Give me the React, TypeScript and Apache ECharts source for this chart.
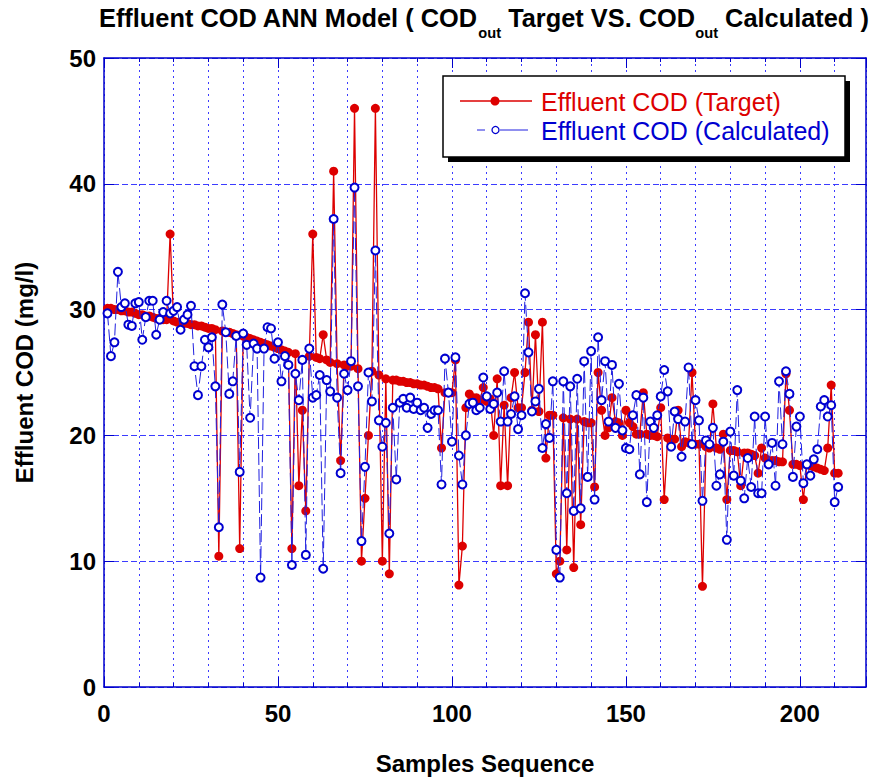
import React, { useEffect, useRef } from "react";
import * as echarts from "echarts";

// Effluent COD target values (samples 1..211)
const target: number[] = [
  30.1, 30.1, 30.0, 30.0, 29.9, 29.9, 29.8, 29.8, 29.7, 29.6,
  29.6, 29.5, 29.5, 29.4, 29.3, 29.3, 29.2, 29.2, 36.0, 29.1,
  29.0, 29.0, 28.9, 28.9, 28.8, 28.8, 28.7, 28.7, 28.6, 28.5,
  28.5, 28.4, 10.4, 28.3, 28.2, 28.2, 28.1, 28.0, 11.0, 27.9,
  27.8, 27.7, 27.6, 27.5, 27.4, 27.3, 27.2, 27.1, 27.0, 26.9,
  26.8, 26.7, 26.6, 11.0, 26.5, 16.0, 22.0, 14.0, 26.3, 36.0,
  26.2, 26.1, 28.0, 26.0, 25.8, 41.0, 25.7, 18.0, 25.6, 25.5,
  25.5, 46.0, 25.3, 10.0, 15.0, 20.0, 25.1, 46.0, 24.8, 10.0,
  24.5, 9.0, 24.4, 24.4, 24.3, 24.3, 24.2, 24.2, 24.1, 24.1,
  24.0, 24.0, 23.9, 23.8, 23.8, 23.7, 19.0, 23.4, 23.4, 23.4,
  26.0, 8.1, 11.2, 22.2, 23.3, 23.0, 23.0, 22.8, 23.8, 22.7,
  22.9, 20.0, 24.5, 16.0, 22.4, 16.0, 23.0, 25.0, 22.2, 22.2,
  25.0, 29.0, 22.0, 28.0, 21.9, 29.0, 18.2, 21.6, 21.6, 9.0,
  10.0, 21.4, 10.9, 21.3, 9.5, 21.3, 12.9, 21.1, 21.0, 21.0,
  15.9, 25.0, 22.0, 20.0, 20.6, 23.0, 21.1, 21.0, 20.0, 22.0,
  21.0, 20.7, 20.1, 20.1, 23.4, 20.1, 20.0, 20.0, 19.9, 22.2,
  14.9, 19.8, 19.7, 19.7, 22.0, 19.1, 19.5, 19.4, 25.0, 19.3,
  19.3, 8.0, 19.1, 19.0, 22.5, 19.0, 18.9, 20.1, 14.9, 18.8,
  18.8, 18.7, 16.0, 18.6, 18.6, 18.5, 18.4, 17.0, 19.0, 18.2,
  18.0, 18.0, 18.0, 17.9, 17.9, 24.9, 22.0, 17.7, 17.7, 17.6,
  14.9, 17.7, 17.6, 17.5, 17.4, 17.3, 17.2, 19.0, 24.0, 17.0, 17.0,
];

// Effluent COD calculated by the ANN model (samples 1..211)
const calculated: number[] = [
  29.7, 26.3, 27.4, 33.0, 30.2, 30.5, 28.8, 28.7, 30.5, 30.6,
  27.6, 29.4, 30.7, 30.7, 28.0, 29.2, 29.8, 30.7, 29.7, 29.9,
  30.2, 28.4, 29.2, 29.6, 30.3, 25.5, 23.2, 25.5, 27.6, 27.0,
  27.8, 23.9, 12.7, 30.4, 28.2, 23.3, 24.3, 27.9, 17.1, 28.1,
  27.2, 21.4, 27.3, 26.9, 8.7, 26.9, 28.6, 28.5, 26.1, 27.4,
  24.3, 26.3, 25.6, 9.7, 24.9, 22.8, 26.0, 10.5, 26.9, 23.0,
  23.2, 24.8, 9.4, 24.4, 23.5, 37.2, 23.0, 17.0, 24.9, 23.6,
  25.9, 39.7, 23.9, 11.6, 17.5, 25.0, 22.7, 34.7, 21.2, 19.1,
  21.0, 12.2, 22.2, 16.5, 22.6, 22.9, 22.2, 23.0, 22.1, 22.6,
  22.0, 22.2, 20.6, 21.7, 22.0, 22.0, 16.1, 26.1, 23.4, 19.5,
  26.2, 18.4, 16.1, 20.0, 22.5, 22.6, 22.0, 22.2, 24.6, 23.1,
  22.1, 22.5, 23.4, 21.1, 25.1, 21.1, 21.7, 23.1, 20.5, 21.6,
  31.3, 26.6, 21.9, 22.7, 23.7, 19.0, 20.9, 19.8, 24.3, 10.9,
  8.7, 24.3, 15.4, 23.9, 14.0, 24.5, 14.2, 25.9, 16.7, 26.7,
  14.9, 27.8, 22.8, 25.9, 21.1, 25.6, 20.6, 24.1, 20.4, 19.0,
  18.9, 21.6, 23.2, 16.9, 23.0, 14.7, 21.1, 20.6, 21.6, 23.1,
  25.2, 23.5, 19.1, 21.9, 21.3, 18.3, 21.1, 25.4, 19.3, 22.8,
  21.2, 14.8, 19.6, 19.3, 20.6, 16.0, 16.9, 19.5, 11.7, 20.3,
  16.8, 23.6, 16.4, 15.0, 18.2, 15.9, 21.5, 15.4, 15.4, 21.5,
  17.7, 19.4, 16.0, 24.3, 19.3, 25.1, 23.3, 16.7, 20.7, 21.5,
  16.2, 17.7, 16.8, 18.1, 18.9, 22.3, 22.8, 21.5, 22.4, 14.7, 15.9,
];

const seriesNames = ["Effluent COD (Target)", "Effluent COD (Calculated)"];
const titleParts = [
  { t: "Effluent COD ANN Model ( COD", sub: false },
  { t: "out", sub: true },
  { t: " Target VS. COD", sub: false },
  { t: "out", sub: true },
  { t: " Calculated )", sub: false },
];
const xAxisName = "Samples Sequence";
const yAxisName = "Effluent COD (mg/l)";

const RED = "#dd0000";
const BLUE = "#0000d0";
const GRIDC = "#3c3cff";
const FRAME = "#0000cc";
const SANS = '"Liberation Sans", Arial, Helvetica, sans-serif';
const NARROW = '"Liberation Sans Narrow", "Liberation Sans", Arial, sans-serif';

function measure(text: string, font: string): number {
  const c = document.createElement("canvas").getContext("2d");
  if (!c) return text.length * 10;
  c.font = font;
  return c.measureText(text).width;
}

export default function App() {
  const ref = useRef<HTMLDivElement>(null);
  useEffect(() => {
    if (!ref.current) return;
    const chart = echarts.init(ref.current, undefined, { renderer: "svg" });

    const mainSize = 26;
    const subSize = 15;
    let cx = 0;
    const titleChildren: any[] = [];
    titleParts.forEach((p) => {
      const size = p.sub ? subSize : mainSize;
      const w = measure(p.t, `bold ${size}px ${NARROW}`);
      titleChildren.push({
        type: "text",
        x: cx,
        y: p.sub ? 25 : 5,
        style: {
          text: p.t,
          fontSize: size,
          fontWeight: "bold",
          fontFamily: NARROW,
          fill: "#000",
          verticalAlign: "top",
          align: "left",
        },
      });
      cx += w;
    });
    const titleScale = 770 / cx;

    const targetData = target.map((v, k) => [k + 1, v]);
    const calcData = calculated.map((v, k) => [k + 1, v]);

    const lx = 443;
    const ly = 76;
    const lw = 402;
    const lh = 81;

    chart.setOption({
      animation: false,
      backgroundColor: "#ffffff",
      grid: { left: 104, right: 8, top: 58, bottom: 90, containLabel: false },
      xAxis: [
        {
          type: "value",
          min: 0,
          max: 219,
          interval: 50,
          name: xAxisName,
          nameLocation: "middle",
          nameGap: 64,
          nameTextStyle: { fontSize: 24, fontWeight: "bold", color: "#000", fontFamily: SANS },
          axisLine: { show: true, onZero: false, lineStyle: { color: FRAME, width: 1.5 } },
          axisTick: { show: true, inside: true, length: 10, lineStyle: { color: FRAME } },
          minorTick: { show: true, splitNumber: 5, length: 4, lineStyle: { color: FRAME } },
          axisLabel: {
            fontSize: 24,
            fontWeight: "bold",
            color: "#000",
            fontFamily: SANS,
            margin: 14,
            showMaxLabel: false,
          },
          splitLine: { show: true, lineStyle: { color: GRIDC, width: 1, type: [2, 4] } },
          minorSplitLine: { show: true, lineStyle: { color: GRIDC, width: 1, type: [2, 4] } },
        },
        {
          type: "value",
          position: "top",
          min: 0,
          max: 219,
          interval: 50,
          axisLine: { show: true, onZero: false, lineStyle: { color: FRAME, width: 1.5 } },
          axisTick: { show: true, inside: true, length: 10, lineStyle: { color: FRAME } },
          minorTick: { show: true, splitNumber: 5, length: 4, lineStyle: { color: FRAME } },
          axisLabel: { show: false },
          splitLine: { show: false },
        },
      ],
      yAxis: [
        {
          type: "value",
          min: 0,
          max: 50,
          interval: 10,
          name: yAxisName,
          nameLocation: "middle",
          nameGap: 68,
          nameTextStyle: { fontSize: 24, fontWeight: "bold", color: "#000", fontFamily: SANS },
          axisLine: { show: true, onZero: false, lineStyle: { color: FRAME, width: 1.5 } },
          axisTick: { show: true, inside: true, length: 10, lineStyle: { color: FRAME } },
          axisLabel: { fontSize: 24, fontWeight: "bold", color: "#000", fontFamily: SANS, margin: 8 },
          splitLine: { show: false },
        },
        {
          type: "value",
          position: "right",
          min: 0,
          max: 50,
          interval: 10,
          axisLine: { show: true, onZero: false, lineStyle: { color: FRAME, width: 1.5 } },
          axisTick: { show: true, inside: true, length: 10, lineStyle: { color: FRAME } },
          axisLabel: { show: false },
          splitLine: {
            show: true,
            lineStyle: { color: [GRIDC], width: 1.2, type: [6, 3] },
          },
        },
      ],
      series: [
        {
          name: seriesNames[0],
          type: "line",
          xAxisIndex: 0,
          yAxisIndex: 0,
          data: targetData,
          symbol: "circle",
          symbolSize: 9,
          showAllSymbol: true,
          itemStyle: { color: RED },
          lineStyle: { color: RED, width: 1.3 },
          z: 2,
        },
        {
          name: seriesNames[1],
          type: "line",
          xAxisIndex: 0,
          yAxisIndex: 0,
          data: calcData,
          symbol: "emptyCircle",
          symbolSize: 8,
          showAllSymbol: true,
          itemStyle: { color: BLUE, borderWidth: 1.3, borderColor: BLUE },
          lineStyle: { color: "#2020e0", width: 1, type: [12, 4] },
          z: 3,
        },
      ],
      graphic: [
        {
          type: "group",
          x: 99,
          y: 0,
          scaleX: titleScale,
          children: titleChildren,
        },
        {
          type: "rect",
          shape: { x: lx + 5, y: ly + 5, width: lw, height: lh },
          style: { fill: "#000" },
          z: 100,
        },
        {
          type: "rect",
          shape: { x: lx, y: ly, width: lw, height: lh },
          style: { fill: "#fff", stroke: "#000", lineWidth: 1.5 },
          z: 101,
        },
        {
          type: "line",
          shape: { x1: 460, y1: 101, x2: 532, y2: 101 },
          style: { stroke: RED, lineWidth: 1.3 },
          z: 102,
        },
        {
          type: "circle",
          shape: { cx: 495, cy: 101, r: 4.5 },
          style: { fill: RED },
          z: 103,
        },
        {
          type: "text",
          x: 541,
          y: 102,
          style: {
            text: seriesNames[0],
            fontSize: 25,
            fontFamily: SANS,
            fill: RED,
            verticalAlign: "middle",
          },
          z: 102,
        },
        {
          type: "line",
          shape: { x1: 477, y1: 130, x2: 485, y2: 130 },
          style: { stroke: "#2020e0", lineWidth: 1 },
          z: 102,
        },
        {
          type: "line",
          shape: { x1: 500, y1: 130, x2: 528, y2: 130 },
          style: { stroke: "#2020e0", lineWidth: 1 },
          z: 102,
        },
        {
          type: "circle",
          shape: { cx: 495.5, cy: 130, r: 3.5 },
          style: { fill: "#fff", stroke: BLUE, lineWidth: 1.3 },
          z: 103,
        },
        {
          type: "text",
          x: 541,
          y: 131,
          style: {
            text: seriesNames[1],
            fontSize: 25,
            fontFamily: SANS,
            fill: BLUE,
            verticalAlign: "middle",
          },
          z: 102,
        },
      ],
    });
    return () => chart.dispose();
  }, []);
  return (
    <div
      ref={ref}
      style={{ position: "fixed", left: 0, top: 0, width: 874, height: 780, background: "#fff" }}
    />
  );
}
